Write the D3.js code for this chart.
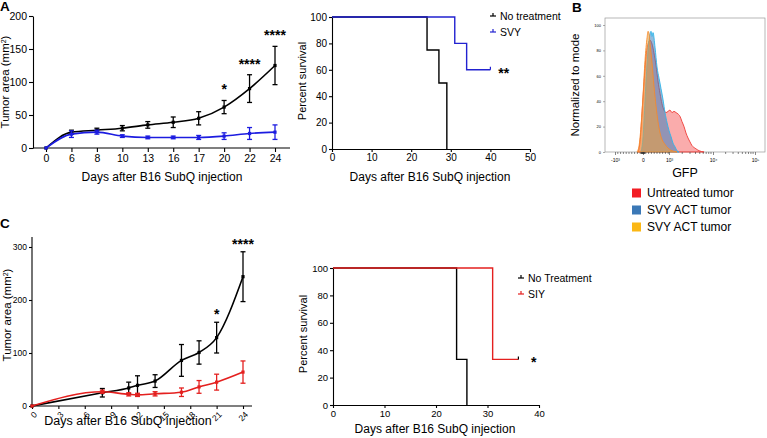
<!DOCTYPE html>
<html><head><meta charset="utf-8">
<script src="https://cdn.jsdelivr.net/npm/d3@7/dist/d3.min.js"></script>
<style>body{margin:0;background:#fff}svg{display:block}</style>
</head><body>
<svg id="c" width="767" height="438"></svg>
<script>
// ---------- Panel A: tumor growth ----------
const aDays = ["0","6","8","10","13","16","17","20","22","24"];
const aYTicks = [0,50,100,150,200];
const aNoTx    = [0,24,27,30,35,39,45,62,90,125];
const aNoTxErr = [0,3,3,4,5,8,10,10,21,29];
const aSVY     = [0,21,24,18,16,16,16,18,22,24];
const aSVYErr  = [0,5,3,2,2,2,3,5,9,11];
const aStarDays = ["20","22","24"];
const aStarText = ["*","****","****"];

// ---------- Panel A: survival ----------
const aSurvXTicks = [0,10,20,30,40,50];
const survYTicks = [0,20,40,60,80,100];
const aSurvNoTxT = [0,24,27,29];
const aSurvNoTxS = [100,75,50,0];
const aSurvSVYT  = [0,31,34,40];
const aSurvSVYS  = [100,80,60,60];
const aSurvLegend = ["No treatment","SVY"];

// ---------- Panel B: GFP histograms ----------
const bTickPos = [62.5,237.5,400,675,937.5];
const bTickLabels = ["-10³","0","10³","10⁴","10⁵"];
const bYTicks = [0,20,40,60,80,100];
const bUntreated = [[206,0],[219,8],[231,30],[244,55],[256,75],[269,85],[281,88],[294,85],[306,78],[319,68],[331,56],[344,46],[356,38],[369,33],[381,31],[394,32],[406,33],[419,31],[431,32],[444,31],[456,30],[469,28],[481,24],[494,20],[506,15],[519,11],[531,8],[544,5],[563,3],[588,1],[619,0]];
const bSVY1 = [[225,0],[238,12],[250,40],[263,70],[275,88],[288,95],[294,91],[300,94],[313,82],[325,67],[338,58],[350,50],[363,41],[375,31],[388,23],[400,17],[413,12],[425,7],[438,4],[450,1],[463,0]];
const bSVY2 = [[200,0],[213,5],[225,20],[238,45],[250,72],[263,90],[269,95],[275,93],[281,86],[294,70],[306,52],[319,36],[331,24],[344,15],[356,10],[375,6],[394,3],[419,1],[450,0]];
const bLegend = ["Untreated tumor","SVY ACT tumor","SVY ACT tumor"];
const bColors = ["#f21d24","#3b78b6","#fbb715"];

// ---------- Panel C: tumor growth ----------
const cDays = [0,8,11,12,14,17,19,21,24];
const cXTicks = [0,3,6,9,12,15,18,21,24];
const cYTicks = [0,100,200,300];
const cNoTx    = [0,25,34,39,47,86,101,129,244];
const cNoTxErr = [0,8,11,18,12,30,22,29,47];
const cSIY     = [0,27,22,21,23,26,36,45,64];
const cSIYErr  = [0,3,3,3,4,8,12,15,21];
const cStarDays = [21,24];
const cStarText = ["*","****"];

// ---------- Panel C: survival ----------
const cSurvXTicks = [0,10,20,30,40];
const cSurvNoTxT = [0,24,26];
const cSurvNoTxS = [100,33.3,0];
const cSurvSIYT  = [0,31,36];
const cSurvSIYS  = [100,33.3,33.3];
const cSurvLegend = ["No Treatment","SIY"];

const FONT = '"Liberation Sans", Arial, Helvetica, sans-serif';
const svg = d3.select("#c").attr("font-family", FONT);

function styleAxis(g, fs){
  g.selectAll("path.domain").attr("stroke","#000").attr("stroke-width",1.1);
  g.selectAll(".tick line").attr("stroke","#000").attr("stroke-width",1.1);
  g.selectAll(".tick text").attr("font-size",fs).attr("font-family",FONT).attr("fill","#000");
}
function label(x,y,txt,fs,opts={}){
  const t = svg.append("text").attr("x",x).attr("y",y).attr("font-size",fs)
    .attr("text-anchor",opts.anchor||"middle").attr("fill","#000").text(txt);
  if(opts.bold) t.attr("font-weight","bold");
  return t;
}
function series(xs, ys, errs, xf, yf, color, curve){
  const pts = xs.map((x,i)=>({x:xf(x), y:yf(ys[i]), lo:yf(ys[i]-errs[i]), hi:yf(ys[i]+errs[i])}));
  svg.append("path").datum(pts).attr("fill","none").attr("stroke",color).attr("stroke-width",1.6)
    .attr("d", d3.line().x(d=>d.x).y(d=>d.y).curve(curve));
  const g = svg.append("g").attr("stroke",color).attr("stroke-width",1.3);
  pts.forEach(p=>{
    if(p.hi!==p.lo){
      g.append("line").attr("x1",p.x).attr("x2",p.x).attr("y1",p.lo).attr("y2",p.hi);
      g.append("line").attr("x1",p.x-2.5).attr("x2",p.x+2.5).attr("y1",p.lo).attr("y2",p.lo);
      g.append("line").attr("x1",p.x-2.5).attr("x2",p.x+2.5).attr("y1",p.hi).attr("y2",p.hi);
    }
    svg.append("rect").attr("x",p.x-1.6).attr("y",p.y-1.6).attr("width",3.2).attr("height",3.2).attr("fill",color);
  });
}

// ===== Panel A left =====
const xA = d3.scalePoint().domain(aDays).range([46,275]);
const yA = d3.scaleLinear().domain([0,200]).range([148,16]);
const gAx = svg.append("g").attr("transform","translate(0,148)")
  .call(d3.axisBottom(xA).tickSize(4).tickSizeOuter(0).tickPadding(3));
styleAxis(gAx,10.5); gAx.select(".domain").attr("d","M33,0H290");
const gAy = svg.append("g").attr("transform","translate(33,0)")
  .call(d3.axisLeft(yA).tickValues(aYTicks).tickSize(4).tickSizeOuter(0).tickPadding(2));
styleAxis(gAy,10.5);
series(aDays, aNoTx, aNoTxErr, d=>xA(d), yA, "#000", d3.curveMonotoneX);
series(aDays, aSVY, aSVYErr, d=>xA(d), yA, "#1c1ce0", d3.curveMonotoneX);
aStarDays.forEach((d,i)=>{
  const k = aDays.indexOf(d);
  label(xA(d), yA(aNoTx[k]+aNoTxErr[k])-6, aStarText[i], 14, {bold:true});
});
svg.append("text").attr("transform","translate(9,82) rotate(-90)").attr("text-anchor","middle")
  .attr("font-size",11.5).attr("fill","#000")
  .html('Tumor area (mm<tspan baseline-shift="super" font-size="7">2</tspan>)');
label(162,181,"Days after B16 SubQ injection",12);
label(0,11,"A",13.5,{anchor:"start",bold:true});

// ===== Panel A survival =====
const xS = d3.scaleLinear().domain([0,50]).range([332,530]);
const yS = d3.scaleLinear().domain([0,100]).range([149,17]);
const gSx = svg.append("g").attr("transform","translate(0,149)")
  .call(d3.axisBottom(xS).tickValues(aSurvXTicks).tickSize(3).tickSizeOuter(0).tickPadding(2));
styleAxis(gSx,10);
const gSy = svg.append("g").attr("transform","translate(332,0)")
  .call(d3.axisLeft(yS).tickValues(survYTicks).tickSize(3).tickSizeOuter(0).tickPadding(2));
styleAxis(gSy,10);
const step = (xs,xf,yf,ys)=>d3.line().x((d,i)=>xf(xs[i])).y(d=>yf(d)).curve(d3.curveStepAfter)(ys);
svg.append("path").attr("d",step(aSurvNoTxT,xS,yS,aSurvNoTxS)).attr("fill","none").attr("stroke","#000").attr("stroke-width",1.4);
svg.append("path").attr("d",step(aSurvSVYT,xS,yS,aSurvSVYS)).attr("fill","none").attr("stroke","#2222d0").attr("stroke-width",1.4);
svg.append("line").attr("x1",xS(40)).attr("x2",xS(40)).attr("y1",yS(60)).attr("y2",yS(60)-3).attr("stroke","#2222d0").attr("stroke-width",1.2);
label(xS(42),yS(60)+8,"**",14,{anchor:"start",bold:true});
function survLegend(x,y,names,colors,fs,gap){
  names.forEach((n,i)=>{
    const yy = y+i*gap;
    svg.append("line").attr("x1",x).attr("x2",x+6).attr("y1",yy).attr("y2",yy).attr("stroke",colors[i]).attr("stroke-width",1.2);
    svg.append("line").attr("x1",x+3).attr("x2",x+3).attr("y1",yy).attr("y2",yy-3).attr("stroke",colors[i]).attr("stroke-width",1.2);
    label(x+10,yy+4,n,fs,{anchor:"start"});
  });
}
survLegend(490,16,aSurvLegend,["#000","#2222d0"],10.5,16);
svg.append("text").attr("transform","translate(306,81) rotate(-90)").attr("text-anchor","middle")
  .attr("font-size",11).attr("fill","#000").text("Percent survival");
label(430,181,"Days after B16 SubQ injection",12);

// ===== Panel B =====
const xB = d3.scaleLinear().domain([0,1000]).range([605,765]);
const yB = d3.scaleLinear().domain([0,100]).range([152,25]);
svg.append("rect").attr("x",605).attr("y",18).attr("width",160).attr("height",134)
  .attr("fill","none").attr("stroke","#999").attr("stroke-width",0.7);
const area = d3.area().x(d=>xB(d[0])).y0(yB(0)).y1(d=>yB(d[1])).curve(d3.curveMonotoneX);
[[bUntreated,"rgba(244,70,70,0.45)","#ee3b36"],[bSVY1,"rgba(60,130,190,0.55)","#2fb4ea"],[bSVY2,"rgba(246,160,45,0.5)","#f58a2c"]]
.forEach(([d,f,s])=>{
  svg.append("path").datum(d).attr("d",area).attr("fill",f).attr("stroke",s).attr("stroke-width",0.9);
});
const gBy = svg.append("g").attr("transform","translate(605,0)")
  .call(d3.axisLeft(yB).tickValues(bYTicks).tickSize(2).tickSizeOuter(0).tickPadding(2));
styleAxis(gBy,4); gBy.select(".domain").remove(); gBy.selectAll(".tick line").attr("stroke","#777").attr("stroke-width",0.6);
const gBx = svg.append("g").attr("transform","translate(0,152)")
  .call(d3.axisBottom(xB).tickValues(bTickPos).tickFormat((d,i)=>bTickLabels[i]).tickSize(3).tickSizeOuter(0).tickPadding(3));
styleAxis(gBx,5); gBx.select(".domain").remove(); gBx.selectAll(".tick line").attr("stroke","#555").attr("stroke-width",0.7);
const minor = [];
for(let v=80; v<400; v+=17.5) minor.push(v);
for(let v=226; v<=250; v+=2.5) minor.push(v);
for(let k=2;k<10;k++){ minor.push(400+275*Math.log10(k)); minor.push(675+262.5*Math.log10(k)); }
svg.append("g").selectAll("line").data(minor).join("line")
  .attr("x1",d=>xB(d)).attr("x2",d=>xB(d)).attr("y1",152).attr("y2",154)
  .attr("stroke","#333").attr("stroke-width",0.6);
svg.append("text").attr("transform","translate(579,85) rotate(-90)").attr("text-anchor","middle")
  .attr("font-size",11.5).attr("fill","#000").text("Normalized to mode");
label(685,177,"GFP",12.5);
label(572,12,"B",13.5,{anchor:"start",bold:true});
bLegend.forEach((n,i)=>{
  const yy = 193 + i*17;
  svg.append("rect").attr("x",632).attr("y",yy-4.5).attr("width",9).attr("height",9).attr("fill",bColors[i]);
  label(647,yy+4,n,12,{anchor:"start"});
});

// ===== Panel C left =====
const xC = d3.scaleLinear().domain([0,24]).range([32,243]);
const yC = d3.scaleLinear().domain([0,300]).range([406,247]);
const gCx = svg.append("g").attr("transform","translate(0,406)")
  .call(d3.axisBottom(xC).tickValues(cXTicks).tickSize(3).tickSizeOuter(0).tickPadding(2));
styleAxis(gCx,8.5); gCx.select(".domain").attr("d","M32,0H252");
gCx.selectAll(".tick text").attr("x",0).attr("y",0).attr("dy","0.35em").attr("text-anchor","end")
  .attr("transform","translate(3,7) rotate(-45)");
const gCy = svg.append("g").attr("transform","translate(32,0)")
  .call(d3.axisLeft(yC).tickValues(cYTicks).tickSize(3).tickSizeOuter(0).tickPadding(2));
styleAxis(gCy,8.5); gCy.select(".domain").attr("d","M0,237V406");
series(cDays, cNoTx, cNoTxErr, xC, yC, "#000", d3.curveMonotoneX);
series(cDays, cSIY, cSIYErr, xC, yC, "#e4201f", d3.curveMonotoneX);
cStarDays.forEach((d,i)=>{
  const k = cDays.indexOf(d);
  label(xC(d), yC(cNoTx[k]+cNoTxErr[k])-3, cStarText[i], 14, {bold:true});
});
svg.append("text").attr("transform","translate(11,315) rotate(-90)").attr("text-anchor","middle")
  .attr("font-size",11.5).attr("fill","#000")
  .html('Tumor area (mm<tspan baseline-shift="super" font-size="7">2</tspan>)');
label(128,425,"Days after B16 SubQ injection",12.5);
label(0,228,"C",13.5,{anchor:"start",bold:true});

// ===== Panel C survival =====
const xS2 = d3.scaleLinear().domain([0,40]).range([333,539]);
const yS2 = d3.scaleLinear().domain([0,100]).range([405,268]);
const gS2x = svg.append("g").attr("transform","translate(0,405)")
  .call(d3.axisBottom(xS2).tickValues(cSurvXTicks).tickSize(3).tickSizeOuter(0).tickPadding(2));
styleAxis(gS2x,9.5);
const gS2y = svg.append("g").attr("transform","translate(333,0)")
  .call(d3.axisLeft(yS2).tickValues(survYTicks).tickSize(3).tickSizeOuter(0).tickPadding(2));
styleAxis(gS2y,9.5);
svg.append("path").attr("d",step(cSurvNoTxT,xS2,yS2,cSurvNoTxS)).attr("fill","none").attr("stroke","#000").attr("stroke-width",1.4);
svg.append("path").attr("d",step(cSurvSIYT,xS2,yS2,cSurvSIYS)).attr("fill","none").attr("stroke","#e4201f").attr("stroke-width",1.4);
svg.append("line").attr("x1",xS2(36)).attr("x2",xS2(36)).attr("y1",yS2(33.3)).attr("y2",yS2(33.3)-3).attr("stroke","#000").attr("stroke-width",1.2);
label(xS2(39),yS2(33.3)+8,"*",14,{bold:true});
survLegend(518,278,cSurvLegend,["#000","#e4201f"],10.5,16);
svg.append("text").attr("transform","translate(307,334) rotate(-90)").attr("text-anchor","middle")
  .attr("font-size",11).attr("fill","#000").text("Percent survival");
label(435,433,"Days after B16 SubQ injection",12);
</script>
</body></html>
